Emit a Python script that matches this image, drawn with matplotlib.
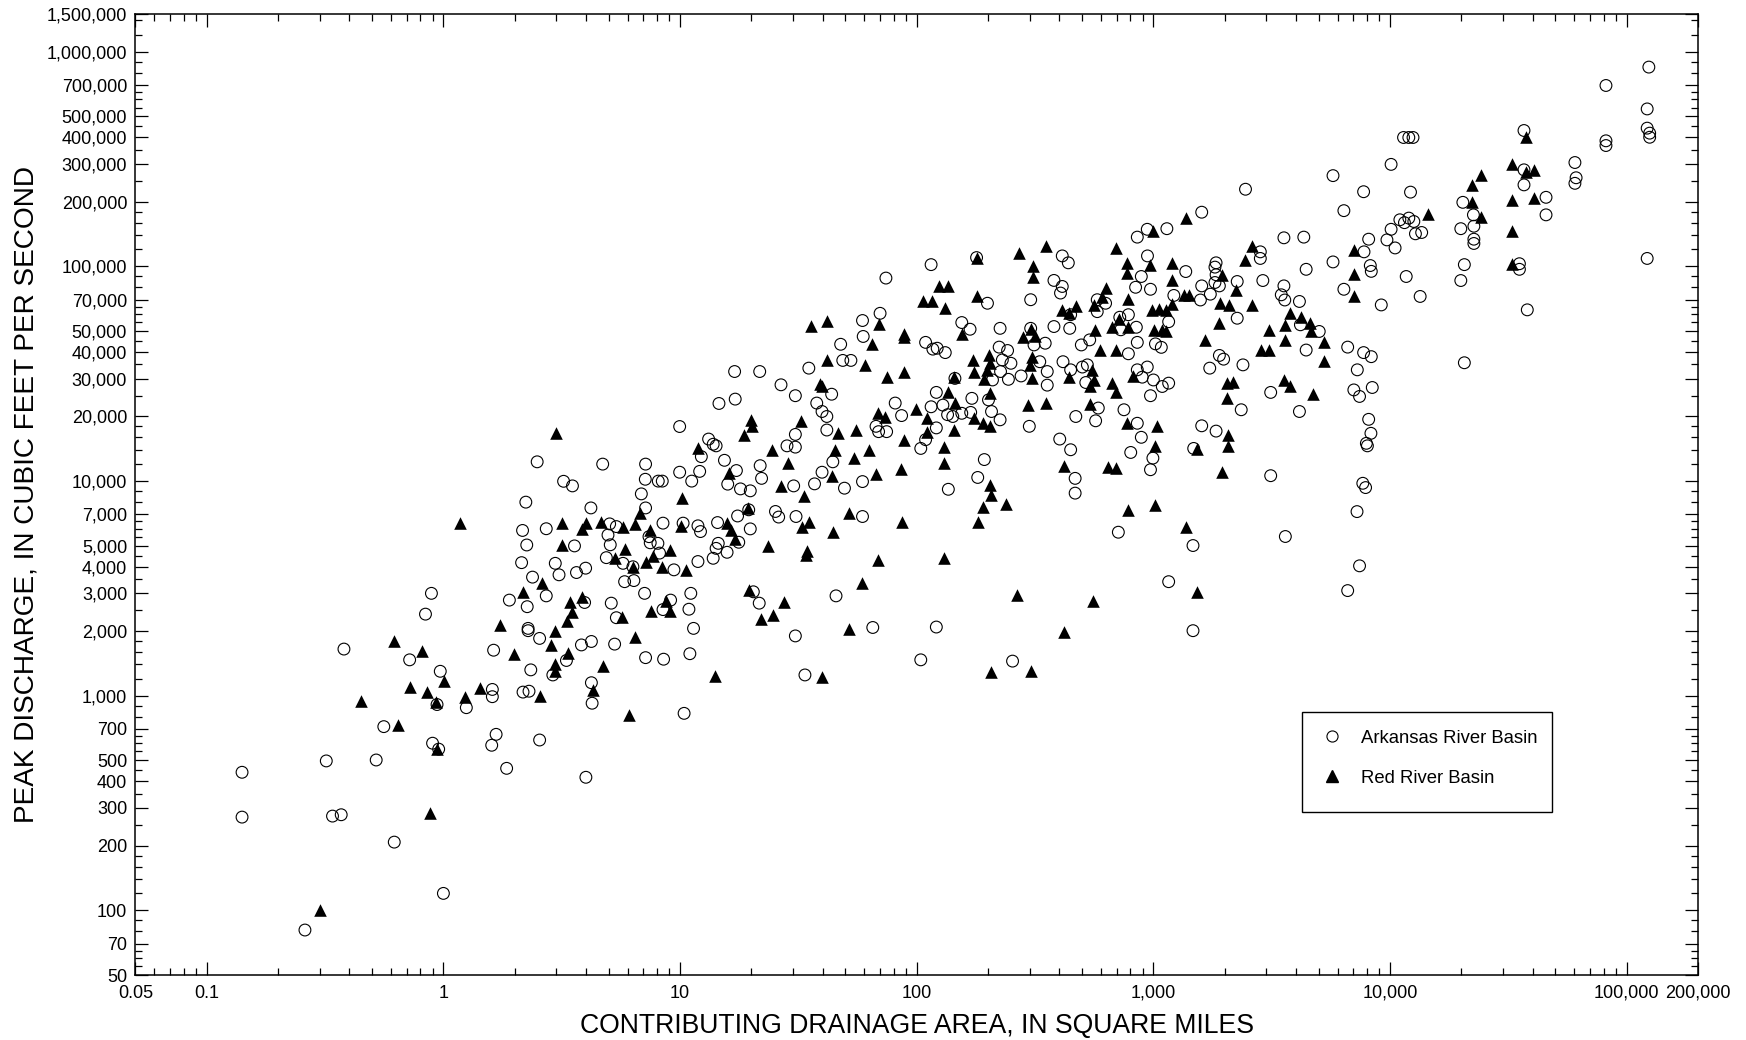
import numpy as np
import matplotlib
matplotlib.use("Agg")
import matplotlib.pyplot as plt
from matplotlib.ticker import FixedLocator, FuncFormatter
from matplotlib.lines import Line2D
from matplotlib.patches import Rectangle

plt.rcParams['font.family'] = ['Liberation Sans', 'DejaVu Sans']

# (drainage area sq mi, peak discharge cfs)
arkansas = [
    # small basins
    (0.38, 1650), (0.72, 1470), (0.97, 1300), (0.94, 910), (1.25, 880), (1.61, 1070), (1.61, 990),
    (2.17, 1040), (2.30, 1050), (1.63, 1630), (2.34, 1320), (3.31, 1460), (2.9, 1250), (3.83, 1725),
    (4.22, 1790), (5.29, 1740), (7.15, 1505), (8.52, 1480), (4.22, 1150), (4.25, 923), (0.56, 718),
    (0.90, 601), (0.955, 564), (1.67, 661), (1.60, 588), (2.55, 622), (0.32, 497), (0.52, 502),
    (0.141, 440), (1.85, 459), (4.0, 417), (0.141, 272), (0.34, 275), (0.37, 279), (0.62, 208),
    (1.0, 120), (0.26, 81),
    (2.49, 12300), (4.71, 12000), (7.15, 12000), (7.13, 10200), (8.09, 10000), (8.41, 10000),
    (3.22, 9980), (3.51, 9500), (6.86, 8720), (2.23, 7980), (4.20, 7500), (7.15, 7500), (2.16, 5890),
    (2.72, 6000), (5.04, 6320), (5.38, 6140), (8.47, 6370), (4.96, 5610), (7.39, 5510), (7.48, 5160),
    (8.06, 5130), (5.07, 5050), (2.25, 5040), (3.58, 4990), (8.19, 4620), (4.88, 4400), (2.14, 4170),
    (2.97, 4140), (3.99, 3930), (3.65, 3750), (3.08, 3660), (5.74, 4140), (6.32, 3990), (9.42, 3860),
    (2.38, 3570), (5.83, 3400), (6.38, 3440), (7.08, 3000), (1.90, 2790), (2.72, 2920), (2.26, 2600),
    (0.89, 3000), (0.84, 2400), (3.95, 2720), (5.12, 2700), (5.38, 2310), (9.12, 2790), (8.47, 2520),
    (2.28, 2060), (2.28, 2010), (2.55, 1850),
    # 10 - 1,000 sq mi
    (9.96, 17960), (9.96, 11000), (13.2, 15700), (13.8, 14850), (14.2, 14600), (12.3, 13000),
    (14.6, 23000), (17.1, 24100), (17.0, 32400), (21.7, 32400), (12.1, 11100), (11.2, 10000),
    (15.4, 12500), (17.3, 11200), (15.9, 9680), (18.0, 9200), (19.8, 9010), (21.8, 11800),
    (22.1, 10300), (30.2, 9500), (28.3, 14600), (30.7, 14400), (30.7, 16500), (26.7, 28100),
    (30.7, 25000), (35.0, 33600), (47.7, 43400), (48.7, 36500), (52.7, 36500), (43.7, 25400),
    (37.8, 23100), (39.8, 21100), (41.7, 20000), (41.7, 17300), (37.0, 9710), (39.8, 11000),
    (44.2, 12300), (49.5, 9270), (59.0, 9950), (59.0, 56000), (59.4, 47200), (70.0, 60500),
    (74.1, 88300), (67.3, 18000), (69.0, 17000), (74.6, 17000), (81.1, 23100), (86.3, 20200),
    (104, 14200), (109, 15600), (115, 22200), (121, 25900), (121, 17700), (129, 22600),
    (115, 102000), (109, 44300), (117, 41200), (122, 41600), (132, 39700), (145, 30100),
    (135, 20400), (142, 20000), (155, 20700), (169, 20900), (136, 9160), (155, 54800), (168, 51000),
    (179, 110000), (199, 67400), (171, 24300), (193, 12600), (181, 10400), (209, 29600),
    (223, 42100), (242, 40600), (230, 36700), (250, 35400), (226, 32400), (244, 29800), (276, 30900),
    (201, 23900), (207, 21100), (225, 19300), (225, 51500), (303, 70000), (303, 51500),
    (412, 112000), (437, 104000), (380, 86100), (412, 80700), (405, 75200), (313, 43100),
    (349, 43900), (331, 36000), (356, 32400), (356, 28000), (415, 36000), (299, 18000),
    (402, 15700), (447, 14000), (467, 10300), (467, 8790), (447, 33000), (501, 34000), (526, 34800),
    (518, 28800), (585, 21900), (570, 19100), (470, 20000), (751, 21500), (855, 18600), (802, 13600),
    (855, 137000), (841, 80000), (579, 70000), (628, 67400), (579, 61600), (447, 59600),
    (380, 52500), (443, 51500), (721, 58000), (784, 59600), (847, 52100), (728, 50700),
    (496, 43100), (538, 45500), (855, 44300), (784, 39200), (855, 33000),
    (59.0, 6840), (30.9, 6840), (25.3, 7220), (26.1, 6800), (19.5, 7350), (17.5, 6880), (19.8, 5990),
    (14.4, 6410), (17.7, 5190), (14.5, 5130), (14.2, 4860), (15.8, 4660), (13.8, 4370), (11.9, 4220),
    (11.9, 6190), (12.2, 5820), (10.3, 6370), (711, 5780), (45.6, 2920), (11.1, 3000), (10.9, 2530),
    (11.4, 2060), (11.0, 1570), (20.4, 3050), (21.6, 2700), (30.7, 1900), (65.2, 2080), (121, 2090),
    (104, 1470), (33.7, 1250), (10.4, 828), (254, 1450),
    # 1,000 - 10,000 sq mi
    (2450, 229000), (1600, 179000), (942, 149000), (1140, 150000), (5740, 265000), (10100, 299000),
    (7730, 223000), (6380, 182000), (3560, 136000), (4320, 137000), (2830, 117000), (2830, 109000),
    (4420, 97000), (5740, 105000), (8120, 134000), (7760, 117000), (8250, 101000), (8330, 94900),
    (6380, 78300), (9180, 66200), (10100, 149000), (9700, 133000), (10500, 122000), (11000, 165000),
    (11700, 89800), (944, 112000), (889, 89800), (972, 78300), (1370, 94700), (1220, 73300),
    (1600, 81200), (1580, 69800), (1740, 74300), (1160, 55300), (1020, 43600), (1080, 42000),
    (942, 34000), (897, 30500), (1000, 29600), (1090, 27600), (1160, 28600), (972, 25000),
    (1840, 104000), (1820, 99300), (1840, 91500), (1820, 84200), (1900, 81200), (2260, 85100),
    (2260, 57400), (2900, 86000), (3560, 81200), (3470, 73800), (3590, 69800), (4140, 68700),
    (4180, 53500), (5020, 49800), (4420, 40800), (1900, 38500), (1980, 37000), (1730, 33600),
    (2390, 34800), (6620, 42100), (7730, 39700), (8330, 38000), (7270, 33000), (7030, 26600),
    (7430, 24800), (8410, 27300), (3130, 25900), (2350, 21500), (4140, 21100), (8120, 19400),
    (8300, 16700), (7940, 15000), (8020, 14600), (889, 16000), (1600, 18100), (1840, 17100),
    (995, 12800), (972, 11300), (1480, 14200), (3130, 10600), (7670, 9770), (7880, 9330),
    (7250, 7210), (1470, 5010), (3610, 5520), (7430, 4030), (1160, 3400), (6620, 3090), (1470, 2010),
    # large basins
    (11400, 399000), (12000, 399000), (12500, 399000), (12200, 222000), (12000, 168000),
    (12600, 162000), (12800, 142000), (13600, 144000), (11500, 160000), (13400, 72500),
    (20300, 199000), (19900, 150000), (20600, 102000), (19900, 86000), (20600, 35600),
    (22500, 174000), (22600, 154000), (22600, 134000), (22600, 128000), (36800, 430000),
    (36800, 282000), (36800, 240000), (45600, 210000), (45600, 174000), (35200, 103000),
    (35200, 97000), (38000, 62800), (60400, 305000), (61100, 259000), (60400, 244000),
    (81700, 697000), (81700, 385000), (81700, 366000), (124000, 849000), (122000, 542000),
    (122000, 441000), (125000, 418000), (125000, 400000), (122000, 109000),
]

red = [
    (0.62, 1790), (0.81, 1620), (1.01, 1175), (0.72, 1100), (0.85, 1045), (0.93, 940), (0.45, 950),
    (1.23, 985), (1.43, 1090), (2.55, 1000), (1.98, 1570), (2.86, 1725), (3.36, 1590), (2.95, 1405),
    (2.95, 1300), (4.72, 1370), (4.29, 1065), (6.08, 814), (0.64, 731), (0.94, 566), (0.88, 285),
    (0.30, 100),
    (3.0, 16800), (6.75, 7130), (1.18, 6410), (3.18, 6410), (3.99, 6410), (3.87, 5960), (4.65, 6480),
    (5.74, 6140), (6.43, 6320), (7.43, 5890), (3.18, 5040), (5.83, 4820), (9.09, 4790), (5.29, 4370),
    (7.2, 4220), (7.68, 4460), (6.3, 4000), (8.41, 3970), (2.6, 3340), (2.16, 3030), (3.87, 2900),
    (3.44, 2720), (3.48, 2460), (3.34, 2240), (5.70, 2340), (8.74, 2760), (9.09, 2470), (7.56, 2470),
    (1.74, 2140), (2.95, 2010), (6.43, 1880),
    (10.2, 8320), (11.9, 14200), (16.1, 10900), (19.9, 19200), (18.7, 16400), (20.1, 18000),
    (24.5, 13900), (28.7, 12200), (26.8, 9500), (33.5, 8530), (32.4, 19100), (35.8, 53000),
    (41.7, 55500), (41.7, 36700), (39.0, 28400), (39.8, 27600), (46.7, 16700), (55.4, 17300),
    (43.9, 10600), (45.3, 14000), (54.4, 12800), (62.7, 13900), (67.3, 10800), (85.8, 11400),
    (69.0, 54000), (64.5, 43500), (60.4, 34800), (88.5, 48500), (88.5, 46800), (74.6, 30700),
    (88.5, 32400), (68.4, 20700), (73.6, 19900), (88.5, 15600), (99.3, 21600), (110, 19600),
    (110, 17000), (131, 14400), (131, 12100), (124, 81300), (136, 81300), (106, 68700), (116, 69200),
    (132, 64000), (136, 25900), (145, 23100), (144, 30700), (143, 17300), (156, 48500),
    (179, 110000), (179, 72500), (175, 19600), (190, 18600), (204, 18000), (204, 9600), (206, 8630),
    (173, 36500), (202, 38700), (204, 35600), (175, 32400), (193, 29800), (199, 33000), (204, 25700),
    (271, 115000), (353, 124000), (310, 100000), (310, 89200), (303, 51000), (280, 46800),
    (316, 47200), (308, 38000), (301, 34800), (308, 30200), (294, 22600), (353, 23100), (419, 11800),
    (440, 30700), (552, 33000), (561, 29600), (538, 27800), (538, 22900), (666, 28600), (693, 25900),
    (776, 18600), (645, 11600), (693, 11500), (697, 122000), (776, 104000), (776, 93100),
    (784, 70500), (632, 79200), (608, 72400), (561, 66200), (412, 62800), (470, 65500), (440, 60700),
    (566, 50400), (670, 52100), (716, 56800), (784, 52500), (593, 40800), (697, 40800), (820, 31000),
    (239, 7830), (191, 7550), (181, 6430), (784, 7350), (86.3, 6430), (51.5, 7130), (44.4, 5780),
    (32.7, 6140), (35.2, 6470), (19.3, 7480), (15.8, 6370), (16.4, 5930), (17.0, 5360), (10.1, 6190),
    (10.6, 3860), (23.6, 4990), (34.5, 4700), (34.1, 4530), (68.4, 4300), (131, 4370), (58.7, 3340),
    (19.6, 3110), (27.6, 2720), (24.8, 2380), (22.0, 2270), (51.5, 2040), (14.0, 1230), (39.8, 1220),
    (264, 2950), (556, 2770), (419, 1990), (206, 1290), (303, 1310),
    (1370, 169000), (995, 147000), (2610, 124000), (2430, 107000), (7060, 119000), (7060, 92400),
    (7060, 72500), (972, 102000), (1200, 104000), (1200, 86700), (1350, 73300), (1410, 73300),
    (1200, 67000), (988, 62800), (1060, 63300), (1130, 62800), (1010, 50700), (1090, 50700),
    (1130, 50300), (1950, 91500), (2240, 77800), (1920, 67400), (2090, 66200), (2610, 66200),
    (1900, 54400), (3790, 60500), (4220, 58400), (4600, 54800), (3590, 53500), (3070, 50700),
    (4650, 49800), (1650, 45500), (3590, 45500), (2860, 40800), (3090, 40800), (5240, 44300),
    (5240, 36300), (2050, 28600), (2160, 29100), (2050, 24300), (3560, 29600), (3790, 27800),
    (4710, 25400), (1040, 18100), (2070, 16400), (2070, 14500), (1020, 14500), (1530, 14100),
    (1940, 11000), (1020, 7750), (1370, 6140), (1530, 3050),
    (14400, 176000), (22100, 240000), (24200, 267000), (22100, 199000), (24200, 170000),
    (32900, 301000), (32900, 203000), (32900, 147000), (32900, 103000), (37600, 403000),
    (37600, 277000), (40400, 282000), (40400, 208000),
]

x_ticks = [0.05, 0.1, 1, 10, 100, 1000, 10000, 100000, 200000]
y_ticks = [50, 70, 100, 200, 300, 400, 500, 700, 1000, 2000, 3000, 4000, 5000, 7000,
           10000, 20000, 30000, 40000, 50000, 70000, 100000, 200000, 300000, 400000,
           500000, 700000, 1000000, 1500000]

ark_x, ark_y = np.array(arkansas).T
red_x, red_y = np.array(red).T

fig = plt.figure(figsize=(17.46, 10.40), dpi=100)
ax = fig.add_axes([0.0776, 0.0625, 0.8949, 0.924])

ax.scatter(ark_x, ark_y, s=72, marker='o', facecolors='none', edgecolors='black', linewidths=0.8)
ax.scatter(red_x, red_y, s=82, marker='^', color='black', linewidths=0)

ax.set_xscale('log')
ax.set_yscale('log')
ax.set_xlim(0.05, 200000)
ax.set_ylim(50, 1500000)

def fmt(v, pos=None):
    if v < 1:
        return f"{v:g}"
    return f"{v:,.0f}"

ax.xaxis.set_major_locator(FixedLocator(x_ticks))
ax.xaxis.set_major_formatter(FuncFormatter(fmt))
xminor = [m * 10.0 ** e for e in range(-2, 6) for m in range(2, 10)]
ax.xaxis.set_minor_locator(FixedLocator([v for v in xminor if 0.05 < v < 100001]))

ax.yaxis.set_major_locator(FixedLocator(y_ticks))
ax.yaxis.set_major_formatter(FuncFormatter(fmt))
yminor = [55, 60, 65, 80, 90]
for e in range(2, 7):
    for m in [1.2, 1.4, 1.6, 1.8, 2.5, 3.5, 4.5, 5.5, 6, 6.5, 8, 9]:
        yminor.append(m * 10 ** e)
ax.yaxis.set_minor_locator(FixedLocator([v for v in yminor if v < 1500000]))
ax.xaxis.set_minor_formatter(FuncFormatter(lambda v, p: ""))
ax.yaxis.set_minor_formatter(FuncFormatter(lambda v, p: ""))

ax.tick_params(which='both', direction='in', top=True, right=True, width=0.9, labelsize=13)
ax.tick_params(which='major', length=9.5)
ax.tick_params(which='minor', length=5)
ax.tick_params(axis='x', pad=7)
ax.tick_params(axis='y', pad=6)
for sp in ax.spines.values():
    sp.set_linewidth(1.1)

ax.set_xlabel("CONTRIBUTING DRAINAGE AREA, IN SQUARE MILES", fontsize=19.2, labelpad=8)
ax.set_ylabel("PEAK DISCHARGE, IN CUBIC FEET PER SECOND", fontsize=20.2, labelpad=5)

# legend box drawn separately so its padding matches the original
ax.add_patch(Rectangle((0.7468, 0.1699), 0.1599, 0.1035, transform=ax.transAxes,
                       facecolor='white', edgecolor='black', linewidth=1.0, zorder=4))
handles = [
    Line2D([], [], linestyle='none', marker='o', markersize=8, markerfacecolor='none',
           markeredgecolor='black', markeredgewidth=0.8, label='Arkansas River Basin'),
    Line2D([], [], linestyle='none', marker='^', markersize=8.5, color='black',
           label='Red River Basin'),
]
leg = ax.legend(handles=handles, loc='upper left', bbox_to_anchor=(0.7466, 0.2745),
                fontsize=13.3, frameon=False, borderpad=1.0, labelspacing=1.25,
                handletextpad=1.0, handlelength=1.2, borderaxespad=0)
leg.set_zorder(5)

fig.savefig("out.png", dpi=100)
